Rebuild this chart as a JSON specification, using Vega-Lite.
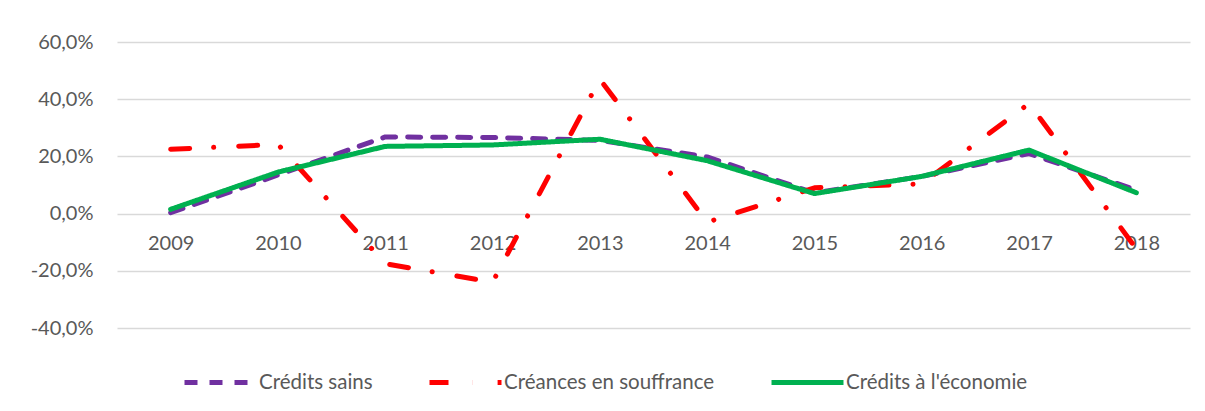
{
  "$schema": "https://vega.github.io/schema/vega-lite/v6.json",
  "width": 1073,
  "height": 286,
  "autosize": {"type": "none"},
  "padding": {"left": 117, "top": 42, "right": 15, "bottom": 83},
  "background": "white",
  "config": {
    "view": {"stroke": null},
    "font": "Lato",
    "axis": {"labelFont": "Lato", "labelColor": "#595959", "labelFontSize": 20}
  },
  "data": {
    "values": [
      {"annee": "2009", "serie": "Crédits sains", "valeur": 0.003},
      {"annee": "2010", "serie": "Crédits sains", "valeur": 0.135},
      {"annee": "2011", "serie": "Crédits sains", "valeur": 0.268},
      {"annee": "2012", "serie": "Crédits sains", "valeur": 0.266},
      {"annee": "2013", "serie": "Crédits sains", "valeur": 0.256},
      {"annee": "2014", "serie": "Crédits sains", "valeur": 0.198},
      {"annee": "2015", "serie": "Crédits sains", "valeur": 0.072},
      {"annee": "2016", "serie": "Crédits sains", "valeur": 0.130},
      {"annee": "2017", "serie": "Crédits sains", "valeur": 0.210},
      {"annee": "2018", "serie": "Crédits sains", "valeur": 0.082},
      {"annee": "2009", "serie": "Créances en souffrance", "valeur": 0.225},
      {"annee": "2010", "serie": "Créances en souffrance", "valeur": 0.242},
      {"annee": "2011", "serie": "Créances en souffrance", "valeur": -0.175},
      {"annee": "2012", "serie": "Créances en souffrance", "valeur": -0.240},
      {"annee": "2013", "serie": "Créances en souffrance", "valeur": 0.470},
      {"annee": "2014", "serie": "Créances en souffrance", "valeur": -0.030},
      {"annee": "2015", "serie": "Créances en souffrance", "valeur": 0.090},
      {"annee": "2016", "serie": "Créances en souffrance", "valeur": 0.104},
      {"annee": "2017", "serie": "Créances en souffrance", "valeur": 0.385},
      {"annee": "2018", "serie": "Créances en souffrance", "valeur": -0.123},
      {"annee": "2009", "serie": "Crédits à l'économie", "valeur": 0.015},
      {"annee": "2010", "serie": "Crédits à l'économie", "valeur": 0.145},
      {"annee": "2011", "serie": "Crédits à l'économie", "valeur": 0.235},
      {"annee": "2012", "serie": "Crédits à l'économie", "valeur": 0.240},
      {"annee": "2013", "serie": "Crédits à l'économie", "valeur": 0.260},
      {"annee": "2014", "serie": "Crédits à l'économie", "valeur": 0.185},
      {"annee": "2015", "serie": "Crédits à l'économie", "valeur": 0.070},
      {"annee": "2016", "serie": "Crédits à l'économie", "valeur": 0.130},
      {"annee": "2017", "serie": "Crédits à l'économie", "valeur": 0.222},
      {"annee": "2018", "serie": "Crédits à l'économie", "valeur": 0.073}
    ]
  },
  "mark": {"type": "line", "strokeWidth": 5, "strokeCap": "round", "strokeJoin": "round"},
  "encoding": {
    "x": {
      "field": "annee",
      "type": "ordinal",
      "title": null,
      "scale": {"paddingInner": 0, "paddingOuter": 0},
      "axis": {
        "offset": -115,
        "domain": false,
        "ticks": false,
        "grid": false,
        "labelAngle": 0,
        "labelPadding": 20,
        "labelBaseline": "top"
      }
    },
    "y": {
      "field": "valeur",
      "type": "quantitative",
      "title": null,
      "scale": {"domain": [-0.4, 0.6], "nice": false, "zero": false},
      "axis": {
        "values": [-0.4, -0.2, 0, 0.2, 0.4, 0.6],
        "labelExpr": "replace(replace(format(datum.value, '.1%'), '.', ','), '−', '-')",
        "domain": false,
        "ticks": false,
        "labelPadding": 24,
        "gridColor": "#d9d9d9",
        "gridWidth": 1.3
      }
    },
    "color": {
      "field": "serie",
      "type": "nominal",
      "title": null,
      "scale": {
        "domain": ["Crédits sains", "Créances en souffrance", "Crédits à l'économie"],
        "range": ["#7030A0", "#FF0000", "#00B050"]
      },
      "legend": {
        "orient": "none",
        "legendX": 65,
        "legendY": 302,
        "direction": "horizontal",
        "symbolType": "stroke",
        "symbolSize": 5184,
        "symbolStrokeWidth": 5,
        "labelFont": "Lato",
        "labelFontSize": 20.5,
        "labelColor": "#595959",
        "labelOffset": 0,
        "columnPadding": 46,
        "labelLimit": 400
      }
    },
    "strokeDash": {
      "field": "serie",
      "type": "nominal",
      "title": null,
      "scale": {
        "domain": ["Crédits sains", "Créances en souffrance", "Crédits à l'économie"],
        "range": [[13, 12], [19, 24, 0.1, 25], [1, 0]]
      },
      "legend": {
        "orient": "none",
        "legendX": 65,
        "legendY": 302,
        "direction": "horizontal",
        "symbolType": "stroke",
        "symbolSize": 5184,
        "symbolStrokeWidth": 5,
        "labelFont": "Lato",
        "labelFontSize": 20.5,
        "labelColor": "#595959",
        "labelOffset": 0,
        "columnPadding": 46,
        "labelLimit": 400
      }
    }
  }
}
